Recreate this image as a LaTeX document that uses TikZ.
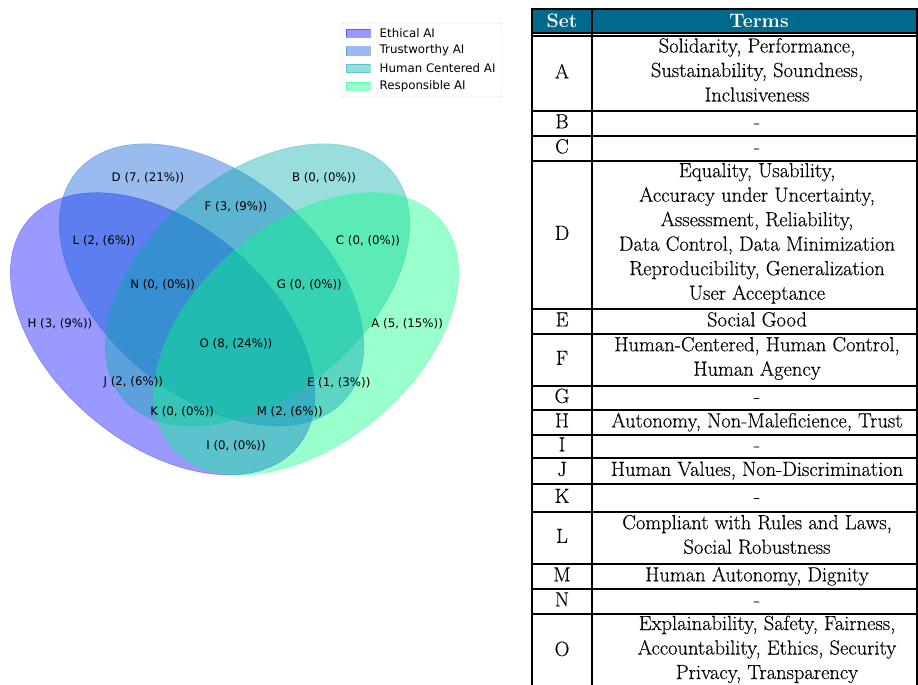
\documentclass[tikz,border=0pt]{standalone}
\usepackage{fontspec}
\usepackage{xcolor}
\usepackage{tikz}
\usetikzlibrary{positioning}

\newfontfamily\vennfont{DejaVu Sans}
\newfontfamily\cellfont{Latin Modern Roman}[FakeBold=0.3]

\definecolor{ethical}{RGB}{0,0,255}
\definecolor{trusty}{RGB}{0,85,212}
\definecolor{humanc}{RGB}{0,170,170}
\definecolor{respons}{RGB}{0,255,127}
\definecolor{headblue}{RGB}{0,105,140}

\tikzset{
  setlabel/.style={font=\vennfont\fontsize{11.8}{14}\selectfont, inner sep=0pt},
  cell/.style={font=\cellfont\fontsize{20.5}{24.5}\selectfont, align=center, inner sep=0pt,
    execute at begin node=\strut, execute at end node=\strut},
  headcell/.style={font=\bfseries\fontsize{19.5}{22}\selectfont, text=white, inner sep=0pt},
  rule/.style={line width=1.8pt, black},
}

\begin{document}
\begin{tikzpicture}[x=1pt, y=1pt]
		\useasboundingbox (0,0) rectangle (918,685);
		\clip (0,0) rectangle (918,685);
		
		% venn, in the unit square of the plot
		\begin{scope}[shift={(-8.5,155.6)}, x=489pt, y=489pt]
		\filldraw[ethical, opacity=0.4, rotate around={140:(0.350,0.400)}] (0.350,0.400) ellipse[x radius=0.36, y radius=0.225];
		\filldraw[trusty, opacity=0.4, rotate around={140:(0.450,0.500)}] (0.450,0.500) ellipse[x radius=0.36, y radius=0.225];
		\filldraw[humanc, opacity=0.4, rotate around={40:(0.544,0.500)}] (0.544,0.500) ellipse[x radius=0.36, y radius=0.225];
		\filldraw[respons, opacity=0.4, rotate around={40:(0.644,0.400)}] (0.644,0.400) ellipse[x radius=0.36, y radius=0.225];
		
		\foreach \n/\x/\y/\t in {A/0.85/0.42/{5, (15\%)}, B/0.68/0.72/{0, (0\%)},
			C/0.77/0.59/{0, (0\%)}, D/0.32/0.72/{7, (21\%)}, E/0.71/0.30/{1, (3\%)},
			F/0.50/0.66/{3, (9\%)}, G/0.65/0.50/{0, (0\%)}, H/0.14/0.42/{3, (9\%)},
			I/0.50/0.17/{0, (0\%)}, J/0.29/0.30/{2, (6\%)}, K/0.39/0.24/{0, (0\%)},
			L/0.23/0.59/{2, (6\%)}, M/0.61/0.24/{2, (6\%)}, N/0.35/0.50/{0, (0\%)},
			O/0.50/0.38/{8, (24\%)}}
		\node[setlabel] (v\n) at (\x,\y) {\n\ (\t)};
		\end{scope}
		
		% legend
		\draw[black!20, fill=white, fill opacity=0.8, rounded corners=2pt] (342,588) rectangle (502,662);
		\foreach \c/\t [count=\i] in {ethical/Ethical AI, trusty/Trustworthy AI, humanc/Human Centered AI, respons/Responsible AI}
		{
			\filldraw[\c, opacity=0.4] (346,{669.8-17.75*\i-4.1}) rectangle ++(24,8.2);
			\node[setlabel, anchor=west] (key\i) at (379.5,{669.8-17.75*\i}) {\t};
		}
		
		% table
		\fill[headblue] (532,652) rectangle (917,676);
		\node[headcell] (headset) at (562,664) {Set};
		\node[headcell] (headterms) at (759,664) {Terms};
		
		\foreach \y in {676, 652, 649, 574, 549, 524, 376, 351, 299, 275, 250, 227, 201, 173, 121, 96, 71}
		\draw[rule] (531.1,\y) -- (917.9,\y);
		\foreach \x in {532, 592, 917}
		\draw[rule] (\x,676.9) -- (\x,-5);
		
		\foreach \s/\y/\t in {A/611.5/{Solidarity, Performance,\\Sustainability, Soundness,\\Inclusiveness},
			B/561.5/-, C/536.5/-,
			D/450/{Equality, Usability,\\Accuracy under Uncertainty,\\Assessment, Reliability,\\Data Control, Data Minimization\\Reproducibility, Generalization\\User Acceptance},
			E/363.5/Social Good, F/325/{Human-Centered, Human Control,\\Human Agency},
			G/287/-, H/262.5/{Autonomy, Non-Maleficience, Trust}, I/238.5/-,
			J/214/{Human Values, Non-Discrimination}, K/187/-,
			L/147/{Compliant with Rules and Laws,\\Social Robustness},
			M/108.5/{Human Autonomy, Dignity}, N/83.5/-}
		{
			\node[cell] (set\s) at (562,\y) {\s};
			\node[cell] (terms\s) at (757,\y) {\t};
		}
		\node[cell] (setO) at (562,34) {O};
		\node[cell] (termsO) at (767,34) {Explainability, Safety, Fairness,\\Accountability, Ethics, Security\\Privacy, Transparency};
		
\end{tikzpicture}
\end{document}
